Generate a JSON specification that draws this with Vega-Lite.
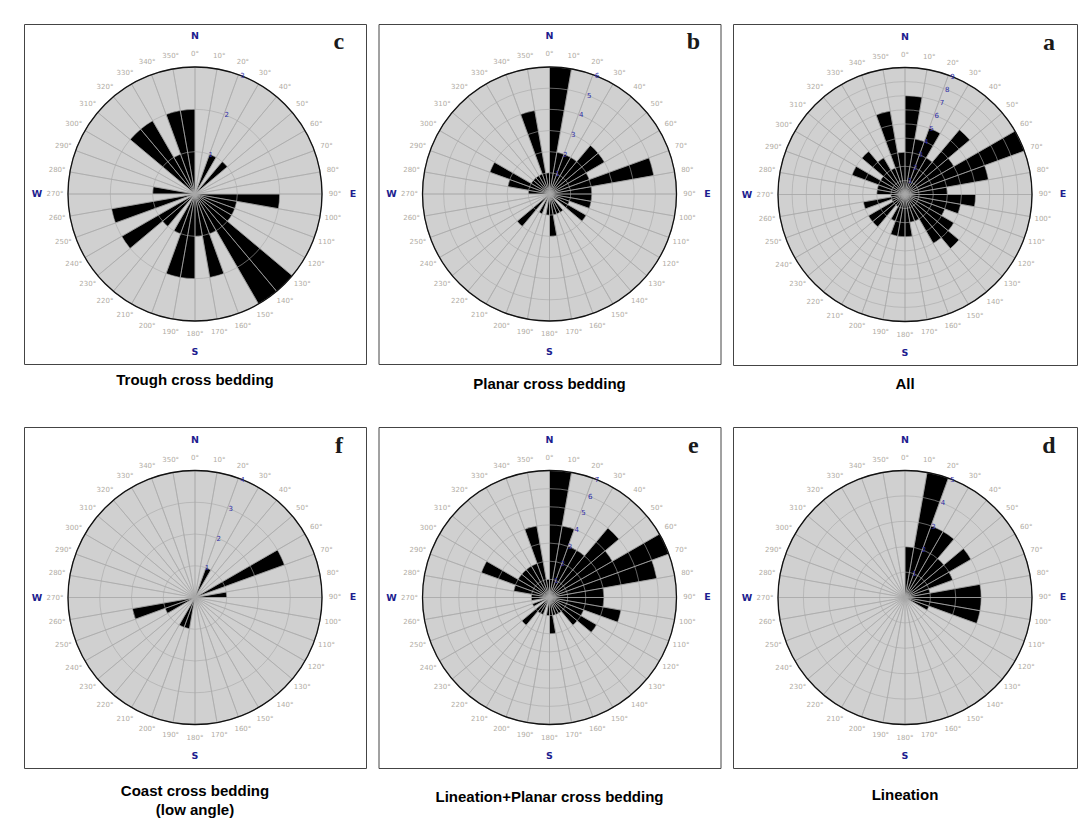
{
"$schema": "https://vega.github.io/schema/vega-lite/v6.json",
"padding": {"left": 23, "top": 23, "right": 0, "bottom": 0},
"background": "white",
"config": {"view": {"stroke": "#444444", "strokeWidth": 1}, "title": {"font": "Liberation Sans", "fontSize": 15, "fontWeight": "bold", "color": "#000000"}},
"datasets": {
"dirs": [{"dir":0,"lab":"0°"},{"dir":10,"lab":"10°"},{"dir":20,"lab":"20°"},{"dir":30,"lab":"30°"},{"dir":40,"lab":"40°"},{"dir":50,"lab":"50°"},{"dir":60,"lab":"60°"},{"dir":70,"lab":"70°"},{"dir":80,"lab":"80°"},{"dir":90,"lab":"90°"},{"dir":100,"lab":"100°"},{"dir":110,"lab":"110°"},{"dir":120,"lab":"120°"},{"dir":130,"lab":"130°"},{"dir":140,"lab":"140°"},{"dir":150,"lab":"150°"},{"dir":160,"lab":"160°"},{"dir":170,"lab":"170°"},{"dir":180,"lab":"180°"},{"dir":190,"lab":"190°"},{"dir":200,"lab":"200°"},{"dir":210,"lab":"210°"},{"dir":220,"lab":"220°"},{"dir":230,"lab":"230°"},{"dir":240,"lab":"240°"},{"dir":250,"lab":"250°"},{"dir":260,"lab":"260°"},{"dir":270,"lab":"270°"},{"dir":280,"lab":"280°"},{"dir":290,"lab":"290°"},{"dir":300,"lab":"300°"},{"dir":310,"lab":"310°"},{"dir":320,"lab":"320°"},{"dir":330,"lab":"330°"},{"dir":340,"lab":"340°"},{"dir":350,"lab":"350°"}],
"compass": [{"dir":0,"t":"N"},{"dir":90,"t":"E"},{"dir":180,"t":"S"},{"dir":270,"t":"W"}],
"rc": [{"r":1},{"r":2},{"r":3}],
"rb": [{"r":1},{"r":2},{"r":3},{"r":4},{"r":5},{"r":6}],
"ra": [{"r":1},{"r":2},{"r":3},{"r":4},{"r":5},{"r":6},{"r":7},{"r":8},{"r":9}],
"rf": [{"r":1},{"r":2},{"r":3},{"r":4}],
"re": [{"r":1},{"r":2},{"r":3},{"r":4},{"r":5},{"r":6},{"r":7}],
"rd": [{"r":1},{"r":2},{"r":3},{"r":4},{"r":5}],
"bc": [{"dir":20,"n":1},{"dir":40,"n":1},{"dir":90,"n":2},{"dir":100,"n":1},{"dir":110,"n":1},{"dir":120,"n":1},{"dir":130,"n":3},{"dir":140,"n":3},{"dir":150,"n":1},{"dir":160,"n":2},{"dir":170,"n":1},{"dir":180,"n":2},{"dir":190,"n":2},{"dir":200,"n":1},{"dir":220,"n":1},{"dir":230,"n":2},{"dir":250,"n":2},{"dir":270,"n":1},{"dir":310,"n":2},{"dir":320,"n":2},{"dir":330,"n":1},{"dir":340,"n":2},{"dir":350,"n":2}],
"bb": [{"dir":0,"n":6},{"dir":10,"n":2},{"dir":20,"n":2},{"dir":30,"n":2},{"dir":40,"n":3},{"dir":50,"n":3},{"dir":60,"n":2},{"dir":70,"n":5},{"dir":80,"n":2},{"dir":90,"n":2},{"dir":100,"n":2},{"dir":110,"n":1},{"dir":120,"n":2},{"dir":140,"n":1},{"dir":150,"n":1},{"dir":160,"n":1},{"dir":170,"n":2},{"dir":180,"n":1},{"dir":200,"n":1},{"dir":220,"n":2},{"dir":270,"n":1},{"dir":280,"n":2},{"dir":290,"n":3},{"dir":300,"n":1},{"dir":310,"n":1},{"dir":320,"n":1},{"dir":330,"n":1},{"dir":340,"n":4},{"dir":350,"n":1}],
"ba": [{"dir":0,"n":7},{"dir":10,"n":4},{"dir":20,"n":5},{"dir":30,"n":3},{"dir":40,"n":6},{"dir":50,"n":4},{"dir":60,"n":9},{"dir":70,"n":6},{"dir":80,"n":3},{"dir":90,"n":5},{"dir":100,"n":4},{"dir":110,"n":3},{"dir":120,"n":4},{"dir":130,"n":5},{"dir":140,"n":4},{"dir":150,"n":2},{"dir":160,"n":2},{"dir":170,"n":3},{"dir":180,"n":3},{"dir":190,"n":3},{"dir":200,"n":2},{"dir":210,"n":1},{"dir":220,"n":3},{"dir":230,"n":3},{"dir":240,"n":1},{"dir":250,"n":3},{"dir":260,"n":1},{"dir":270,"n":2},{"dir":280,"n":2},{"dir":290,"n":4},{"dir":300,"n":2},{"dir":310,"n":4},{"dir":320,"n":3},{"dir":330,"n":2},{"dir":340,"n":6},{"dir":350,"n":3}],
"bf": [{"dir":20,"n":1},{"dir":60,"n":3},{"dir":80,"n":1},{"dir":190,"n":1},{"dir":200,"n":1},{"dir":240,"n":1},{"dir":250,"n":2}],
"be": [{"dir":0,"n":7},{"dir":10,"n":4},{"dir":20,"n":3},{"dir":30,"n":3},{"dir":40,"n":5},{"dir":50,"n":4},{"dir":60,"n":7},{"dir":70,"n":6},{"dir":80,"n":3},{"dir":90,"n":3},{"dir":100,"n":4},{"dir":110,"n":2},{"dir":120,"n":3},{"dir":130,"n":2},{"dir":140,"n":1},{"dir":150,"n":1},{"dir":160,"n":1},{"dir":170,"n":2},{"dir":180,"n":1},{"dir":200,"n":1},{"dir":210,"n":1},{"dir":220,"n":2},{"dir":240,"n":1},{"dir":260,"n":1},{"dir":270,"n":1},{"dir":280,"n":2},{"dir":290,"n":4},{"dir":300,"n":2},{"dir":310,"n":2},{"dir":320,"n":2},{"dir":330,"n":2},{"dir":340,"n":4},{"dir":350,"n":1}],
"bd": [{"dir":0,"n":2},{"dir":10,"n":5},{"dir":20,"n":3},{"dir":30,"n":3},{"dir":40,"n":2},{"dir":50,"n":3},{"dir":60,"n":2},{"dir":70,"n":1},{"dir":80,"n":3},{"dir":90,"n":3},{"dir":100,"n":3},{"dir":110,"n":1}]
},
"spacing": 33,
"vconcat": [
{"hconcat": [
{"width": 342, "height": 340, "view": {"stroke": "#444444", "strokeWidth": 1},
 "title": {"text": "Trough cross bedding", "orient": "bottom", "anchor": "middle", "offset": 9},
 "layer": [
 {"data": {"name": "rc"}, "transform": [{"filter": "datum.r == 3"}], "mark": {"type": "arc", "fill": "#d0d0d0", "theta": 0, "theta2": 6.2832}, "encoding": {"radius": {"field": "r", "type": "quantitative", "stack": null, "scale": {"type": "linear", "domain": [0, 3], "range": [0, 127], "zero": true, "nice": false}}}},
 {"data": {"name": "bc"}, "mark": {"type": "arc", "fill": "#000000"}, "encoding": {"theta": {"field": "dir", "type": "ordinal", "scale": {"type": "band", "domain": [0,10,20,30,40,50,60,70,80,90,100,110,120,130,140,150,160,170,180,190,200,210,220,230,240,250,260,270,280,290,300,310,320,330,340,350], "range": [0, 6.2831853], "paddingInner": 0, "paddingOuter": 0}}, "radius": {"field": "n", "type": "quantitative", "stack": null}}},
 {"data": {"name": "dirs"}, "mark": {"type": "arc", "filled": false, "stroke": "#a8a8a8", "strokeWidth": 0.6}, "encoding": {"theta": {"field": "dir", "type": "ordinal"}, "radius": {"datum": 3, "type": "quantitative", "stack": null}}},
 {"data": {"name": "rc"}, "mark": {"type": "arc", "filled": false, "stroke": "#a8a8a8", "strokeWidth": 0.6, "theta": 0, "theta2": 6.2832}, "encoding": {"radius": {"field": "r", "type": "quantitative", "stack": null}}},
 {"data": {"name": "rc"}, "transform": [{"filter": "datum.r == 3"}], "mark": {"type": "arc", "filled": false, "stroke": "#111111", "strokeWidth": 1.3, "theta": 0, "theta2": 6.2832}, "encoding": {"radius": {"field": "r", "type": "quantitative", "stack": null}}},
 {"data": {"name": "rc"}, "mark": {"type": "text", "thetaOffset": -0.0524, "fontSize": 7, "font": "DejaVu Sans", "fill": "#2e2ea6"}, "encoding": {"theta": {"datum": 20, "type": "ordinal"}, "radius": {"field": "r", "type": "quantitative"}, "text": {"field": "r"}}},
 {"data": {"name": "dirs"}, "mark": {"type": "text", "thetaOffset": -0.0873, "radiusOffset": 13, "fontSize": 7, "font": "DejaVu Sans", "fill": "#b1aca4"}, "encoding": {"theta": {"field": "dir", "type": "ordinal"}, "radius": {"datum": 3, "type": "quantitative"}, "text": {"field": "lab"}}},
 {"data": {"name": "compass"}, "mark": {"type": "text", "thetaOffset": -0.0873, "radiusOffset": 31, "fontSize": 9.5, "font": "DejaVu Sans", "fontWeight": "bold", "fill": "#1d1d8f"}, "encoding": {"theta": {"field": "dir", "type": "ordinal"}, "radius": {"datum": 3, "type": "quantitative"}, "text": {"field": "t"}}},
 {"data": {"values": [{"lab": "c"}]}, "mark": {"type": "text", "thetaOffset": -0.026, "radiusOffset": 82, "font": "Liberation Serif", "fontSize": 24, "fontWeight": "bold", "fill": "#1a1a1a"}, "encoding": {"theta": {"datum": 40, "type": "ordinal"}, "radius": {"datum": 3, "type": "quantitative"}, "text": {"field": "lab"}}}
 ]},
{"width": 342, "height": 340, "view": {"stroke": "#444444", "strokeWidth": 1},
 "title": {"text": "Planar cross bedding", "orient": "bottom", "anchor": "middle", "offset": 13},
 "layer": [
 {"data": {"name": "rb"}, "transform": [{"filter": "datum.r == 6"}], "mark": {"type": "arc", "fill": "#d0d0d0", "theta": 0, "theta2": 6.2832}, "encoding": {"radius": {"field": "r", "type": "quantitative", "stack": null, "scale": {"type": "linear", "domain": [0, 6], "range": [0, 127], "zero": true, "nice": false}}}},
 {"data": {"name": "bb"}, "mark": {"type": "arc", "fill": "#000000"}, "encoding": {"theta": {"field": "dir", "type": "ordinal", "scale": {"type": "band", "domain": [0,10,20,30,40,50,60,70,80,90,100,110,120,130,140,150,160,170,180,190,200,210,220,230,240,250,260,270,280,290,300,310,320,330,340,350], "range": [0, 6.2831853], "paddingInner": 0, "paddingOuter": 0}}, "radius": {"field": "n", "type": "quantitative", "stack": null}}},
 {"data": {"name": "dirs"}, "mark": {"type": "arc", "filled": false, "stroke": "#a8a8a8", "strokeWidth": 0.6}, "encoding": {"theta": {"field": "dir", "type": "ordinal"}, "radius": {"datum": 6, "type": "quantitative", "stack": null}}},
 {"data": {"name": "rb"}, "mark": {"type": "arc", "filled": false, "stroke": "#a8a8a8", "strokeWidth": 0.6, "theta": 0, "theta2": 6.2832}, "encoding": {"radius": {"field": "r", "type": "quantitative", "stack": null}}},
 {"data": {"name": "rb"}, "transform": [{"filter": "datum.r == 6"}], "mark": {"type": "arc", "filled": false, "stroke": "#111111", "strokeWidth": 1.3, "theta": 0, "theta2": 6.2832}, "encoding": {"radius": {"field": "r", "type": "quantitative", "stack": null}}},
 {"data": {"name": "rb"}, "mark": {"type": "text", "thetaOffset": -0.0524, "fontSize": 7, "font": "DejaVu Sans", "fill": "#2e2ea6"}, "encoding": {"theta": {"datum": 20, "type": "ordinal"}, "radius": {"field": "r", "type": "quantitative"}, "text": {"field": "r"}}},
 {"data": {"name": "dirs"}, "mark": {"type": "text", "thetaOffset": -0.0873, "radiusOffset": 13, "fontSize": 7, "font": "DejaVu Sans", "fill": "#b1aca4"}, "encoding": {"theta": {"field": "dir", "type": "ordinal"}, "radius": {"datum": 6, "type": "quantitative"}, "text": {"field": "lab"}}},
 {"data": {"name": "compass"}, "mark": {"type": "text", "thetaOffset": -0.0873, "radiusOffset": 31, "fontSize": 9.5, "font": "DejaVu Sans", "fontWeight": "bold", "fill": "#1d1d8f"}, "encoding": {"theta": {"field": "dir", "type": "ordinal"}, "radius": {"datum": 6, "type": "quantitative"}, "text": {"field": "t"}}},
 {"data": {"values": [{"lab": "b"}]}, "mark": {"type": "text", "thetaOffset": -0.026, "radiusOffset": 82, "font": "Liberation Serif", "fontSize": 24, "fontWeight": "bold", "fill": "#1a1a1a"}, "encoding": {"theta": {"datum": 40, "type": "ordinal"}, "radius": {"datum": 6, "type": "quantitative"}, "text": {"field": "lab"}}}
 ]},
{"width": 344, "height": 341, "view": {"stroke": "#444444", "strokeWidth": 1},
 "title": {"text": "All", "orient": "bottom", "anchor": "middle", "offset": 12},
 "layer": [
 {"data": {"name": "ra"}, "transform": [{"filter": "datum.r == 9"}], "mark": {"type": "arc", "fill": "#d0d0d0", "theta": 0, "theta2": 6.2832}, "encoding": {"radius": {"field": "r", "type": "quantitative", "stack": null, "scale": {"type": "linear", "domain": [0, 9], "range": [0, 127], "zero": true, "nice": false}}}},
 {"data": {"name": "ba"}, "mark": {"type": "arc", "fill": "#000000"}, "encoding": {"theta": {"field": "dir", "type": "ordinal", "scale": {"type": "band", "domain": [0,10,20,30,40,50,60,70,80,90,100,110,120,130,140,150,160,170,180,190,200,210,220,230,240,250,260,270,280,290,300,310,320,330,340,350], "range": [0, 6.2831853], "paddingInner": 0, "paddingOuter": 0}}, "radius": {"field": "n", "type": "quantitative", "stack": null}}},
 {"data": {"name": "dirs"}, "mark": {"type": "arc", "filled": false, "stroke": "#a8a8a8", "strokeWidth": 0.6}, "encoding": {"theta": {"field": "dir", "type": "ordinal"}, "radius": {"datum": 9, "type": "quantitative", "stack": null}}},
 {"data": {"name": "ra"}, "mark": {"type": "arc", "filled": false, "stroke": "#a8a8a8", "strokeWidth": 0.6, "theta": 0, "theta2": 6.2832}, "encoding": {"radius": {"field": "r", "type": "quantitative", "stack": null}}},
 {"data": {"name": "ra"}, "transform": [{"filter": "datum.r == 9"}], "mark": {"type": "arc", "filled": false, "stroke": "#111111", "strokeWidth": 1.3, "theta": 0, "theta2": 6.2832}, "encoding": {"radius": {"field": "r", "type": "quantitative", "stack": null}}},
 {"data": {"name": "ra"}, "mark": {"type": "text", "thetaOffset": -0.0524, "fontSize": 7, "font": "DejaVu Sans", "fill": "#2e2ea6"}, "encoding": {"theta": {"datum": 20, "type": "ordinal"}, "radius": {"field": "r", "type": "quantitative"}, "text": {"field": "r"}}},
 {"data": {"name": "dirs"}, "mark": {"type": "text", "thetaOffset": -0.0873, "radiusOffset": 13, "fontSize": 7, "font": "DejaVu Sans", "fill": "#b1aca4"}, "encoding": {"theta": {"field": "dir", "type": "ordinal"}, "radius": {"datum": 9, "type": "quantitative"}, "text": {"field": "lab"}}},
 {"data": {"name": "compass"}, "mark": {"type": "text", "thetaOffset": -0.0873, "radiusOffset": 31, "fontSize": 9.5, "font": "DejaVu Sans", "fontWeight": "bold", "fill": "#1d1d8f"}, "encoding": {"theta": {"field": "dir", "type": "ordinal"}, "radius": {"datum": 9, "type": "quantitative"}, "text": {"field": "t"}}},
 {"data": {"values": [{"lab": "a"}]}, "mark": {"type": "text", "thetaOffset": -0.026, "radiusOffset": 82, "font": "Liberation Serif", "fontSize": 24, "fontWeight": "bold", "fill": "#1a1a1a"}, "encoding": {"theta": {"datum": 40, "type": "ordinal"}, "radius": {"datum": 9, "type": "quantitative"}, "text": {"field": "lab"}}}
 ]}
], "spacing": 10.5},
{"hconcat": [
{"width": 342, "height": 341, "view": {"stroke": "#444444", "strokeWidth": 1},
 "title": {"text": ["Coast cross bedding", "(low angle)"], "orient": "bottom", "anchor": "middle", "offset": 16, "lineHeight": 19},
 "layer": [
 {"data": {"name": "rf"}, "transform": [{"filter": "datum.r == 4"}], "mark": {"type": "arc", "fill": "#d0d0d0", "theta": 0, "theta2": 6.2832}, "encoding": {"radius": {"field": "r", "type": "quantitative", "stack": null, "scale": {"type": "linear", "domain": [0, 4], "range": [0, 127], "zero": true, "nice": false}}}},
 {"data": {"name": "bf"}, "mark": {"type": "arc", "fill": "#000000"}, "encoding": {"theta": {"field": "dir", "type": "ordinal", "scale": {"type": "band", "domain": [0,10,20,30,40,50,60,70,80,90,100,110,120,130,140,150,160,170,180,190,200,210,220,230,240,250,260,270,280,290,300,310,320,330,340,350], "range": [0, 6.2831853], "paddingInner": 0, "paddingOuter": 0}}, "radius": {"field": "n", "type": "quantitative", "stack": null}}},
 {"data": {"name": "dirs"}, "mark": {"type": "arc", "filled": false, "stroke": "#a8a8a8", "strokeWidth": 0.6}, "encoding": {"theta": {"field": "dir", "type": "ordinal"}, "radius": {"datum": 4, "type": "quantitative", "stack": null}}},
 {"data": {"name": "rf"}, "mark": {"type": "arc", "filled": false, "stroke": "#a8a8a8", "strokeWidth": 0.6, "theta": 0, "theta2": 6.2832}, "encoding": {"radius": {"field": "r", "type": "quantitative", "stack": null}}},
 {"data": {"name": "rf"}, "transform": [{"filter": "datum.r == 4"}], "mark": {"type": "arc", "filled": false, "stroke": "#111111", "strokeWidth": 1.3, "theta": 0, "theta2": 6.2832}, "encoding": {"radius": {"field": "r", "type": "quantitative", "stack": null}}},
 {"data": {"name": "rf"}, "mark": {"type": "text", "thetaOffset": -0.0524, "fontSize": 7, "font": "DejaVu Sans", "fill": "#2e2ea6"}, "encoding": {"theta": {"datum": 20, "type": "ordinal"}, "radius": {"field": "r", "type": "quantitative"}, "text": {"field": "r"}}},
 {"data": {"name": "dirs"}, "mark": {"type": "text", "thetaOffset": -0.0873, "radiusOffset": 13, "fontSize": 7, "font": "DejaVu Sans", "fill": "#b1aca4"}, "encoding": {"theta": {"field": "dir", "type": "ordinal"}, "radius": {"datum": 4, "type": "quantitative"}, "text": {"field": "lab"}}},
 {"data": {"name": "compass"}, "mark": {"type": "text", "thetaOffset": -0.0873, "radiusOffset": 31, "fontSize": 9.5, "font": "DejaVu Sans", "fontWeight": "bold", "fill": "#1d1d8f"}, "encoding": {"theta": {"field": "dir", "type": "ordinal"}, "radius": {"datum": 4, "type": "quantitative"}, "text": {"field": "t"}}},
 {"data": {"values": [{"lab": "f"}]}, "mark": {"type": "text", "thetaOffset": -0.026, "radiusOffset": 82, "font": "Liberation Serif", "fontSize": 24, "fontWeight": "bold", "fill": "#1a1a1a"}, "encoding": {"theta": {"datum": 40, "type": "ordinal"}, "radius": {"datum": 4, "type": "quantitative"}, "text": {"field": "lab"}}}
 ]},
{"width": 342, "height": 341, "view": {"stroke": "#444444", "strokeWidth": 1},
 "title": {"text": "Lineation+Planar cross bedding", "orient": "bottom", "anchor": "middle", "offset": 22},
 "layer": [
 {"data": {"name": "re"}, "transform": [{"filter": "datum.r == 7"}], "mark": {"type": "arc", "fill": "#d0d0d0", "theta": 0, "theta2": 6.2832}, "encoding": {"radius": {"field": "r", "type": "quantitative", "stack": null, "scale": {"type": "linear", "domain": [0, 7], "range": [0, 127], "zero": true, "nice": false}}}},
 {"data": {"name": "be"}, "mark": {"type": "arc", "fill": "#000000"}, "encoding": {"theta": {"field": "dir", "type": "ordinal", "scale": {"type": "band", "domain": [0,10,20,30,40,50,60,70,80,90,100,110,120,130,140,150,160,170,180,190,200,210,220,230,240,250,260,270,280,290,300,310,320,330,340,350], "range": [0, 6.2831853], "paddingInner": 0, "paddingOuter": 0}}, "radius": {"field": "n", "type": "quantitative", "stack": null}}},
 {"data": {"name": "dirs"}, "mark": {"type": "arc", "filled": false, "stroke": "#a8a8a8", "strokeWidth": 0.6}, "encoding": {"theta": {"field": "dir", "type": "ordinal"}, "radius": {"datum": 7, "type": "quantitative", "stack": null}}},
 {"data": {"name": "re"}, "mark": {"type": "arc", "filled": false, "stroke": "#a8a8a8", "strokeWidth": 0.6, "theta": 0, "theta2": 6.2832}, "encoding": {"radius": {"field": "r", "type": "quantitative", "stack": null}}},
 {"data": {"name": "re"}, "transform": [{"filter": "datum.r == 7"}], "mark": {"type": "arc", "filled": false, "stroke": "#111111", "strokeWidth": 1.3, "theta": 0, "theta2": 6.2832}, "encoding": {"radius": {"field": "r", "type": "quantitative", "stack": null}}},
 {"data": {"name": "re"}, "mark": {"type": "text", "thetaOffset": -0.0524, "fontSize": 7, "font": "DejaVu Sans", "fill": "#2e2ea6"}, "encoding": {"theta": {"datum": 20, "type": "ordinal"}, "radius": {"field": "r", "type": "quantitative"}, "text": {"field": "r"}}},
 {"data": {"name": "dirs"}, "mark": {"type": "text", "thetaOffset": -0.0873, "radiusOffset": 13, "fontSize": 7, "font": "DejaVu Sans", "fill": "#b1aca4"}, "encoding": {"theta": {"field": "dir", "type": "ordinal"}, "radius": {"datum": 7, "type": "quantitative"}, "text": {"field": "lab"}}},
 {"data": {"name": "compass"}, "mark": {"type": "text", "thetaOffset": -0.0873, "radiusOffset": 31, "fontSize": 9.5, "font": "DejaVu Sans", "fontWeight": "bold", "fill": "#1d1d8f"}, "encoding": {"theta": {"field": "dir", "type": "ordinal"}, "radius": {"datum": 7, "type": "quantitative"}, "text": {"field": "t"}}},
 {"data": {"values": [{"lab": "e"}]}, "mark": {"type": "text", "thetaOffset": -0.026, "radiusOffset": 82, "font": "Liberation Serif", "fontSize": 24, "fontWeight": "bold", "fill": "#1a1a1a"}, "encoding": {"theta": {"datum": 40, "type": "ordinal"}, "radius": {"datum": 7, "type": "quantitative"}, "text": {"field": "lab"}}}
 ]},
{"width": 344, "height": 341, "view": {"stroke": "#444444", "strokeWidth": 1},
 "title": {"text": "Lineation", "orient": "bottom", "anchor": "middle", "offset": 20},
 "layer": [
 {"data": {"name": "rd"}, "transform": [{"filter": "datum.r == 5"}], "mark": {"type": "arc", "fill": "#d0d0d0", "theta": 0, "theta2": 6.2832}, "encoding": {"radius": {"field": "r", "type": "quantitative", "stack": null, "scale": {"type": "linear", "domain": [0, 5], "range": [0, 127], "zero": true, "nice": false}}}},
 {"data": {"name": "bd"}, "mark": {"type": "arc", "fill": "#000000"}, "encoding": {"theta": {"field": "dir", "type": "ordinal", "scale": {"type": "band", "domain": [0,10,20,30,40,50,60,70,80,90,100,110,120,130,140,150,160,170,180,190,200,210,220,230,240,250,260,270,280,290,300,310,320,330,340,350], "range": [0, 6.2831853], "paddingInner": 0, "paddingOuter": 0}}, "radius": {"field": "n", "type": "quantitative", "stack": null}}},
 {"data": {"name": "dirs"}, "mark": {"type": "arc", "filled": false, "stroke": "#a8a8a8", "strokeWidth": 0.6}, "encoding": {"theta": {"field": "dir", "type": "ordinal"}, "radius": {"datum": 5, "type": "quantitative", "stack": null}}},
 {"data": {"name": "rd"}, "mark": {"type": "arc", "filled": false, "stroke": "#a8a8a8", "strokeWidth": 0.6, "theta": 0, "theta2": 6.2832}, "encoding": {"radius": {"field": "r", "type": "quantitative", "stack": null}}},
 {"data": {"name": "rd"}, "transform": [{"filter": "datum.r == 5"}], "mark": {"type": "arc", "filled": false, "stroke": "#111111", "strokeWidth": 1.3, "theta": 0, "theta2": 6.2832}, "encoding": {"radius": {"field": "r", "type": "quantitative", "stack": null}}},
 {"data": {"name": "rd"}, "mark": {"type": "text", "thetaOffset": -0.0524, "fontSize": 7, "font": "DejaVu Sans", "fill": "#2e2ea6"}, "encoding": {"theta": {"datum": 20, "type": "ordinal"}, "radius": {"field": "r", "type": "quantitative"}, "text": {"field": "r"}}},
 {"data": {"name": "dirs"}, "mark": {"type": "text", "thetaOffset": -0.0873, "radiusOffset": 13, "fontSize": 7, "font": "DejaVu Sans", "fill": "#b1aca4"}, "encoding": {"theta": {"field": "dir", "type": "ordinal"}, "radius": {"datum": 5, "type": "quantitative"}, "text": {"field": "lab"}}},
 {"data": {"name": "compass"}, "mark": {"type": "text", "thetaOffset": -0.0873, "radiusOffset": 31, "fontSize": 9.5, "font": "DejaVu Sans", "fontWeight": "bold", "fill": "#1d1d8f"}, "encoding": {"theta": {"field": "dir", "type": "ordinal"}, "radius": {"datum": 5, "type": "quantitative"}, "text": {"field": "t"}}},
 {"data": {"values": [{"lab": "d"}]}, "mark": {"type": "text", "thetaOffset": -0.026, "radiusOffset": 82, "font": "Liberation Serif", "fontSize": 24, "fontWeight": "bold", "fill": "#1a1a1a"}, "encoding": {"theta": {"datum": 40, "type": "ordinal"}, "radius": {"datum": 5, "type": "quantitative"}, "text": {"field": "lab"}}}
 ]}
], "spacing": 10.5}
]
}
